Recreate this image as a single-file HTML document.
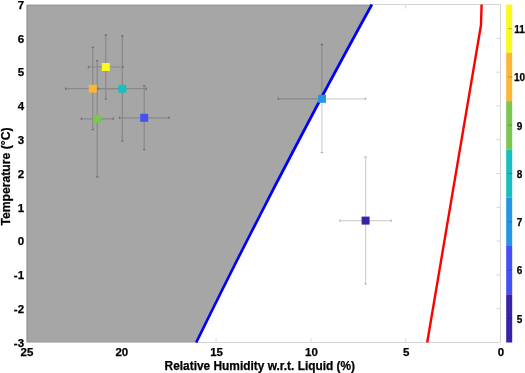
<!DOCTYPE html>
<html><head><meta charset="utf-8">
<style>
html,body{margin:0;padding:0;background:#fff;width:525px;height:373px;overflow:hidden}
svg{display:block;will-change:transform}
text{font-family:"Liberation Sans",sans-serif;font-weight:bold;fill:#000;stroke:#000;stroke-width:0.25px}
</style></head><body>
<svg width="525" height="373" viewBox="0 0 525 373">
<!-- axes box -->
<g stroke="#d4d4d4" stroke-width="1" fill="none">
<path d="M371,4.5H500.5V342.5H196"/>
<path d="M405.7,4.5v4"/>
<path d="M216.1,342.5v-4M310.9,342.5v-4M405.7,342.5v-4"/>
<path d="M500.5,38.3h-4M500.5,72.1h-4M500.5,105.9h-4M500.5,139.7h-4M500.5,173.5h-4M500.5,207.3h-4M500.5,241.1h-4M500.5,274.9h-4M500.5,308.7h-4"/>
</g>
<!-- error bars -->
<g stroke="#d2d2d2" stroke-width="1.2" fill="none">
<path d="M105.8,35.0V98.8M88.4,67.0H123.0"/>
<path d="M92.8,47.3V129.7M65.7,88.7H119.9"/>
<path d="M122.3,36.0V141.2M98.1,88.7H146.3"/>
<path d="M97.2,60.6V176.8M81.4,118.8H113.2"/>
<path d="M144.2,85.9V149.6M119.5,117.8H169.1"/>
<path d="M321.9,44.5V152.7M278.2,98.8H365.5"/>
<path d="M365.6,157.1V283.8M340.0,220.6H391.0"/>
</g>
<g stroke="#b0b0b0" stroke-width="1.3" fill="none">
<path d="M104.6,35.0h2.4M104.6,98.8h2.4M88.4,65.8v2.4M123.0,65.8v2.4"/>
<path d="M91.6,47.3h2.4M91.6,129.7h2.4M65.7,87.5v2.4M119.9,87.5v2.4"/>
<path d="M121.1,36.0h2.4M121.1,141.2h2.4M98.1,87.5v2.4M146.3,87.5v2.4"/>
<path d="M96.0,60.6h2.4M96.0,176.8h2.4M81.4,117.6v2.4M113.2,117.6v2.4"/>
<path d="M143.0,85.9h2.4M143.0,149.6h2.4M119.5,116.6v2.4M169.1,116.6v2.4"/>
<path d="M320.7,44.5h2.4M320.7,152.7h2.4M278.2,97.6v2.4M365.5,97.6v2.4"/>
<path d="M364.4,157.1h2.4M364.4,283.8h2.4M340.0,219.4v2.4M391.0,219.4v2.4"/>
</g>
<!-- gray patch -->
<path fill="rgba(0,0,0,0.349)" d="M26.3,4.6 L371.9,4.6 L357.6,30.5 L343.5,56.5 L329.5,82.5 L315.6,108.5 L301.9,134.5 L288.3,160.5 L274.7,186.5 L261.4,212.5 L248.1,238.5 L234.9,264.5 L221.9,290.5 L209.0,316.5 L196.2,342.6 L26.3,342.6Z"/>
<path fill="none" stroke="rgba(0,0,0,0.1)" stroke-width="1" d="M371,5.4H27.4V342.1H197"/>
<!-- blue line -->
<path fill="none" stroke="#0000ff" stroke-width="2.7" stroke-linejoin="round" d="M371.9,4.5 L357.6,30.5 L343.5,56.5 L329.5,82.5 L315.6,108.5 L301.9,134.5 L288.3,160.5 L274.7,186.5 L261.4,212.5 L248.1,238.5 L234.9,264.5 L221.9,290.5 L209.0,316.5 L196.2,342.5"/>
<!-- red line -->
<path fill="none" stroke="#ff0000" stroke-width="2.4" stroke-linejoin="round" d="M481.6,4.5 L481.0,25 L427.2,342.5"/>
<!-- markers -->
<g stroke="none">
<rect x="101.8" y="63.0" width="8" height="8" fill="#f9f91a"/>
<rect x="88.8" y="84.7" width="8" height="8" fill="#fab735"/>
<rect x="118.3" y="84.7" width="8" height="8" fill="#18bfbc"/>
<rect x="93.2" y="114.8" width="8" height="8" fill="#7bc651"/>
<rect x="140.2" y="113.8" width="8" height="8" fill="#4551f4"/>
<rect x="318.0" y="94.8" width="8" height="8" fill="#2496e4"/>
<rect x="361.6" y="216.6" width="8" height="8" fill="#3a22a8"/>
</g>
<!-- colorbar -->
<g stroke="none">
<rect x="506.2" y="4.5" width="6" height="48.3" fill="#f9f91a"/>
<rect x="506.2" y="52.8" width="6" height="48.3" fill="#fab735"/>
<rect x="506.2" y="101.1" width="6" height="48.3" fill="#7bc651"/>
<rect x="506.2" y="149.4" width="6" height="48.3" fill="#18bfbc"/>
<rect x="506.2" y="197.7" width="6" height="48.3" fill="#2496e4"/>
<rect x="506.2" y="246.0" width="6" height="48.3" fill="#4551f4"/>
<rect x="506.2" y="294.3" width="6" height="48.2" fill="#3a22a8"/>
</g>
<g stroke="rgba(0,0,0,0.22)" stroke-width="1" fill="none">
<path d="M512.2,28.6h-4M512.2,76.9h-4M512.2,125.2h-4M512.2,173.5h-4M512.2,221.8h-4M512.2,270.1h-4M512.2,318.4h-4"/>
</g>
<!-- y tick labels -->
<g font-size="11.5" text-anchor="end">
<text x="24.1" y="8.7">7</text>
<text x="24.1" y="42.5">6</text>
<text x="24.1" y="76.3">5</text>
<text x="24.1" y="110.1">4</text>
<text x="24.1" y="143.9">3</text>
<text x="24.1" y="177.7">2</text>
<text x="24.1" y="211.5">1</text>
<text x="24.1" y="245.3">0</text>
<text x="24.1" y="279.1">-1</text>
<text x="24.1" y="312.9">-2</text>
<text x="24.1" y="346.7">-3</text>
</g>
<!-- x tick labels -->
<g font-size="11.5" text-anchor="middle">
<text x="27" y="356">25</text>
<text x="121.8" y="356">20</text>
<text x="216.6" y="356">15</text>
<text x="311.4" y="356">10</text>
<text x="406.2" y="356">5</text>
<text x="501" y="356">0</text>
</g>
<!-- colorbar labels -->
<g font-size="10" text-anchor="middle" style="stroke-width:0.1px">
<text x="519.5" y="32.9">11</text>
<text x="519.5" y="81.2">10</text>
<text x="519.5" y="129.5">9</text>
<text x="519.5" y="177.8">8</text>
<text x="519.5" y="226.1">7</text>
<text x="519.5" y="274.4">6</text>
<text x="519.5" y="322.7">5</text>
</g>
<!-- axis labels -->
<text x="164.6" y="369.9" font-size="11.9">Relative Humidity w.r.t. Liquid (%)</text>
<text transform="translate(10.3,225.6) rotate(-90)" font-size="12.2">Temperature (°C)</text>
</svg>
</body></html>
